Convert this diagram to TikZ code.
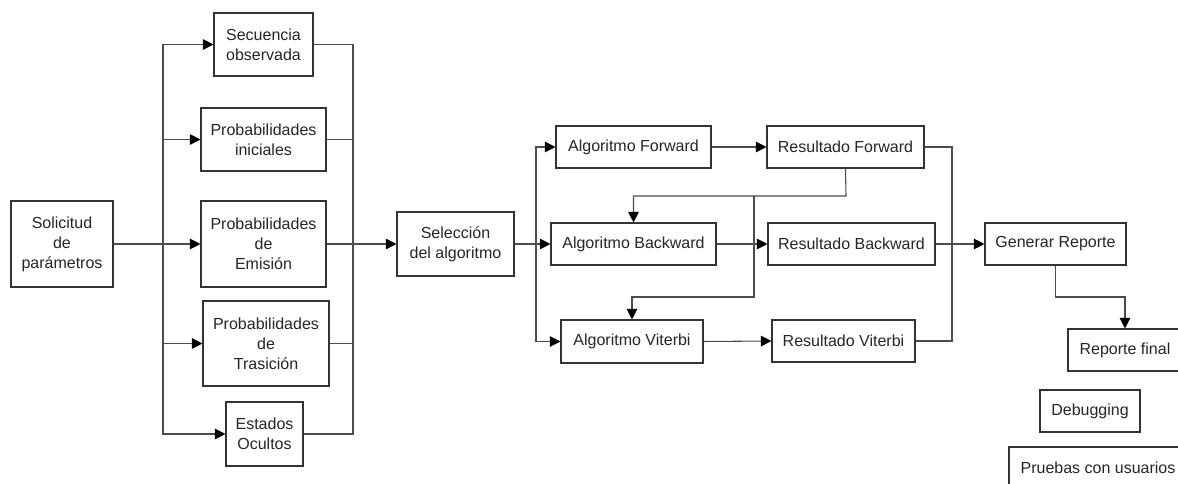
\documentclass[tikz,border=0pt]{standalone}
\usepackage{fontspec}
\setmainfont{Liberation Sans}
\usetikzlibrary{arrows.meta}
\begin{document}
\begin{tikzpicture}[x=0.75pt,y=-0.75pt,
  box/.style={draw=black!80,line width=0.8pt,fill=white,inner sep=0pt,align=center,
    text=black!85,font=\fontsize{12}{15}\selectfont},
  sz/.style 2 args={minimum width=#1*0.75pt,minimum height=#2*0.75pt},
  link/.style={draw=black!70,line width=0.8pt},
  arr/.style={link,-{Triangle[length=8pt,width=8pt,color=black]}}]
\useasboundingbox (0,0) rectangle (1178,484);
\clip (0,0) rectangle (1178,484);
\fill[white] (0,0) rectangle (1178,484);

% input stage
\node[box,sz={102}{86}] (sol) at (62,244) {Solicitud\\de\\parámetros};
\node[box,sz={99}{63}] (sec) at (263.5,44.5) {Secuencia\\observada};
\node[box,sz={125}{63}] (ini) at (263.5,139.5) {Probabilidades\\iniciales};
\node[box,sz={125}{86}] (emi) at (263.5,244) {Probabilidades\\de\\Emisión};
\node[box,sz={126}{85}] (tra) at (266,343.5) {Probabilidades\\de\\Trasición};
\node[box,sz={77}{64}] (est) at (264.5,434) {Estados\\Ocultos};

% algorithm stage
\node[box,sz={117}{64}] (sel) at (455.5,244) {Selección\\del algoritmo};
\node[box,sz={155}{42}] (af) at (633.5,147) {Algoritmo Forward};
\node[box,sz={165}{42}] (ab) at (633.5,244) {Algoritmo Backward};
\node[box,sz={142}{43}] (av) at (632,341.5) {Algoritmo Viterbi};
\node[box,sz={157}{42}] (rf) at (845.5,147) {Resultado Forward};
\node[box,sz={167}{42}] (rb) at (851.5,244) {Resultado Backward};
\node[box,sz={143}{42}] (rv) at (843.5,341) {Resultado Viterbi};

% output stage
\node[box,sz={141}{42}] (gr) at (1055.5,244) {Generar Reporte};
\node[box,sz={114}{42}] (rfin) at (1125,350) {Reporte final};
\node[box,sz={100}{42}] (dbg) at (1090,411) {Debugging};
\node[box,sz={178}{42}] (pru) at (1098,468) {Pruebas con usuarios};

% bus junctions
\coordinate (bl) at (163,244);
\coordinate (br) at (353,244);
\coordinate (bs) at (536,244);
\coordinate (bg) at (952,244);
\coordinate (j1) at (846,196);
\coordinate (j2) at (754,196);
\coordinate (j3) at (754,297);
\coordinate (j4) at (1055.5,297);

% fan-out of the parameters
\draw[arr] (sol.east) -- (emi.west);
\draw[arr] (bl) |- (sec.west);
\draw[arr] (bl) |- (ini.west);
\draw[arr] (bl) |- (tra.west);
\draw[arr] (bl) |- (est.west);

% fan-in towards the selection
\draw[link] (sec.east) -| (br);
\draw[link] (ini.east) -| (br);
\draw[link] (tra.east) -| (br);
\draw[link] (est.east) -| (br);
\draw[arr] (emi.east) -- (sel.west);

% selection of the algorithm
\draw[arr] (sel.east) -- (ab.west);
\draw[arr] (bs) |- (af.west);
\draw[arr] (bs) |- (av.west);

\draw[arr] (af.east) -- (rf.west);
\draw[arr] (ab.east) -- (rb.west);
\draw[arr] (av.east) -- (rv.west);

% forward result feeds the other algorithms
\draw[arr] (rf.south) -- (j1) -| (ab.north);
\draw[arr] (j2) -- (j3) -| (av.north);

% results to the report
\draw[link] (rf.east) -| (bg);
\draw[link] (rv.east) -| (bg);
\draw[arr] (rb.east) -- (gr.west);
\draw[arr] (gr.south) -- (j4) -| (rfin.north);
\end{tikzpicture}
\end{document}
